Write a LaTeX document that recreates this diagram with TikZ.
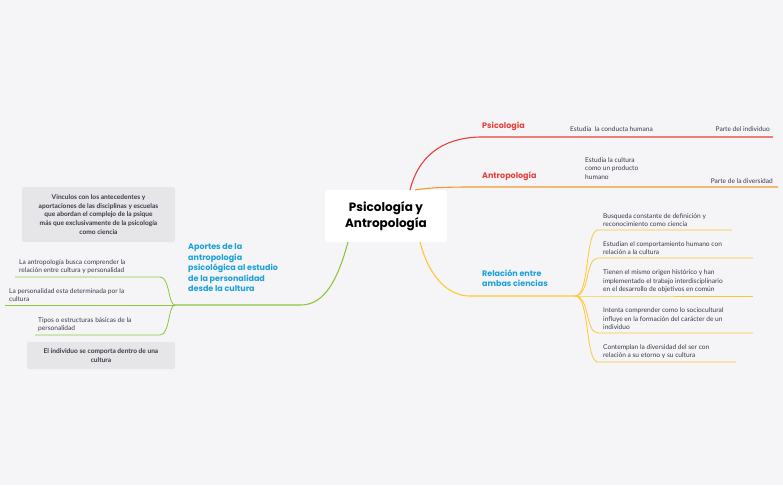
\documentclass[tikz,border=0pt]{standalone}
\usepackage{fontspec}
\setmainfont{Lato}
\newfontfamily\hfont{Poppins}
\definecolor{bg}{HTML}{F5F5F7}
\definecolor{cred}{HTML}{E8403A}
\definecolor{corg}{HTML}{F39A2B}
\definecolor{cyel}{HTML}{FDC833}
\definecolor{cgrn}{HTML}{8DC63F}
\definecolor{cblu}{HTML}{1BA1D8}
\definecolor{ctxt}{HTML}{3A3A4A}
\definecolor{cbox}{HTML}{E6E6E8}
\begin{document}
\begin{tikzpicture}[x=1pt,y=-1pt,
  txt/.style={font=\fontsize{6.6}{8.6}\selectfont,text=ctxt,inner sep=0pt,align=left},
  head/.style={font=\hfont\bfseries\fontsize{8}{10.5}\selectfont,inner sep=0pt,align=left},
  gbox/.style={fill=cbox,rounded corners=2pt,font=\bfseries\fontsize{6.6}{8.6}\selectfont,text=ctxt,align=center,inner sep=0pt},
  br/.style={line width=1.1pt},
  sb/.style={line width=0.8pt}]
\fill[bg] (0,0) rectangle (783,485);
\useasboundingbox (0,0) rectangle (783,485);
% center
\node[fill=white,rounded corners=3pt,minimum width=122,minimum height=52,align=center,
  font=\hfont\bfseries\fontsize{12}{16}\selectfont] (c) at (386,216) {Psicología y\\Antropología};
% coordinates
\coordinate (r0) at (410,190); \coordinate (r1) at (482,137); \coordinate (r2) at (773,137);
\coordinate (o0) at (415,190); \coordinate (o1) at (470,187); \coordinate (o2) at (778,187);
\coordinate (y0) at (420,242); \coordinate (y1) at (470,296); \coordinate (y2) at (575,296);
\coordinate (g0) at (348,242); \coordinate (g1) at (300,305); \coordinate (g2) at (175,305);
\draw[br,cred] (r0) .. controls (420,150) and (450,137) .. (r1) -- (r2);
\draw[br,corg] (o0) .. controls (425,188) and (445,187) .. (o1) -- (o2);
\draw[br,cyel] (y0) .. controls (430,280) and (450,296) .. (y1) -- (y2);
\draw[br,cgrn] (g0) .. controls (335,290) and (320,305) .. (g1) -- (g2);
% red
\node[head,text=cred,anchor=west] (p) at (482,126) {Psicología};
\node[txt,anchor=west] (p1) at (570,129) {Estudia\ \ la conducta humana};
\node[txt,anchor=east] (p2) at (770,129) {Parte del individuo};
% orange
\node[head,text=cred,anchor=west] (a) at (482,176) {Antropología};
\node[txt,anchor=north west] (a1) at (585,157) {Estudia la cultura\\como un producto\\humano};
\node[txt,anchor=east] (a2) at (773,181) {Parte de la diversidad};
% yellow
\node[head,text=cblu,anchor=west] (re) at (482,278) {Relación entre\\ambas ciencias};
\foreach \n/\yy/\xe/\t in {1/230/732/{Busqueda constante de definición y\\reconocimiento como ciencia},
  2/258/753/{Estudian el comportamiento humano con\\relación a la cultura},
  3/296/753/{Tienen el mismo origen histórico y han\\implementado el trabajo interdisciplinario\\en el desarrollo de objetivos en común},
  4/333/753/{Intenta comprender como lo sociocultural\\influye en la formación del carácter de un\\individuo},
  5/362/736/{Contemplan la diversidad del ser con\\relación a su etorno y su cultura}}{
  \coordinate (ys\n) at (598,\yy); \coordinate (ye\n) at (\xe,\yy);
  \draw[sb,cyel] (y2) .. controls (590,296) and (585,\yy) .. (ys\n) -- (ye\n);
  \node[txt,anchor=south west] (yt\n) at (603,\yy-3) {\t};
}
% green
\node[head,text=cblu,anchor=west] (ap) at (188,268) {Aportes de la\\antropología\\psicológica al estudio\\de la personalidad\\desde la cultura};
\coordinate (gs1) at (160,277); \coordinate (ge1) at (15,277);
\coordinate (gs2) at (175,305); \coordinate (ge2) at (5,305);
\coordinate (gs3) at (160,335); \coordinate (ge3) at (35,335);
\draw[sb,cgrn] (g2) .. controls (168,305) and (170,277) .. (gs1) -- (ge1);
\draw[sb,cgrn] (g2) -- (ge2);
\draw[sb,cgrn] (g2) .. controls (168,305) and (170,335) .. (gs3) -- (ge3);
\node[txt,anchor=south west] (gt1) at (19,274) {La antropología busca comprender la\\relación entre cultura y personalidad};
\node[txt,anchor=south west] (gt2) at (9,302) {La personalidad esta determinada por la\\cultura};
\node[txt,anchor=south west] (gt3) at (38,332) {Tipos o estructuras básicas de la\\personalidad};
\node[gbox,minimum width=153,minimum height=55] (b1) at (98.5,214.5) {Vinculos con los antecedentes y\\aportaciones de las disciplinas y escuelas\\que abordan el complejo de la psique\\más que exclusivamente de la psicología\\como ciencia};
\node[gbox,minimum width=148,minimum height=27] (b2) at (101,355.5) {El individuo se comporta dentro de una\\cultura};
\end{tikzpicture}
\end{document}
